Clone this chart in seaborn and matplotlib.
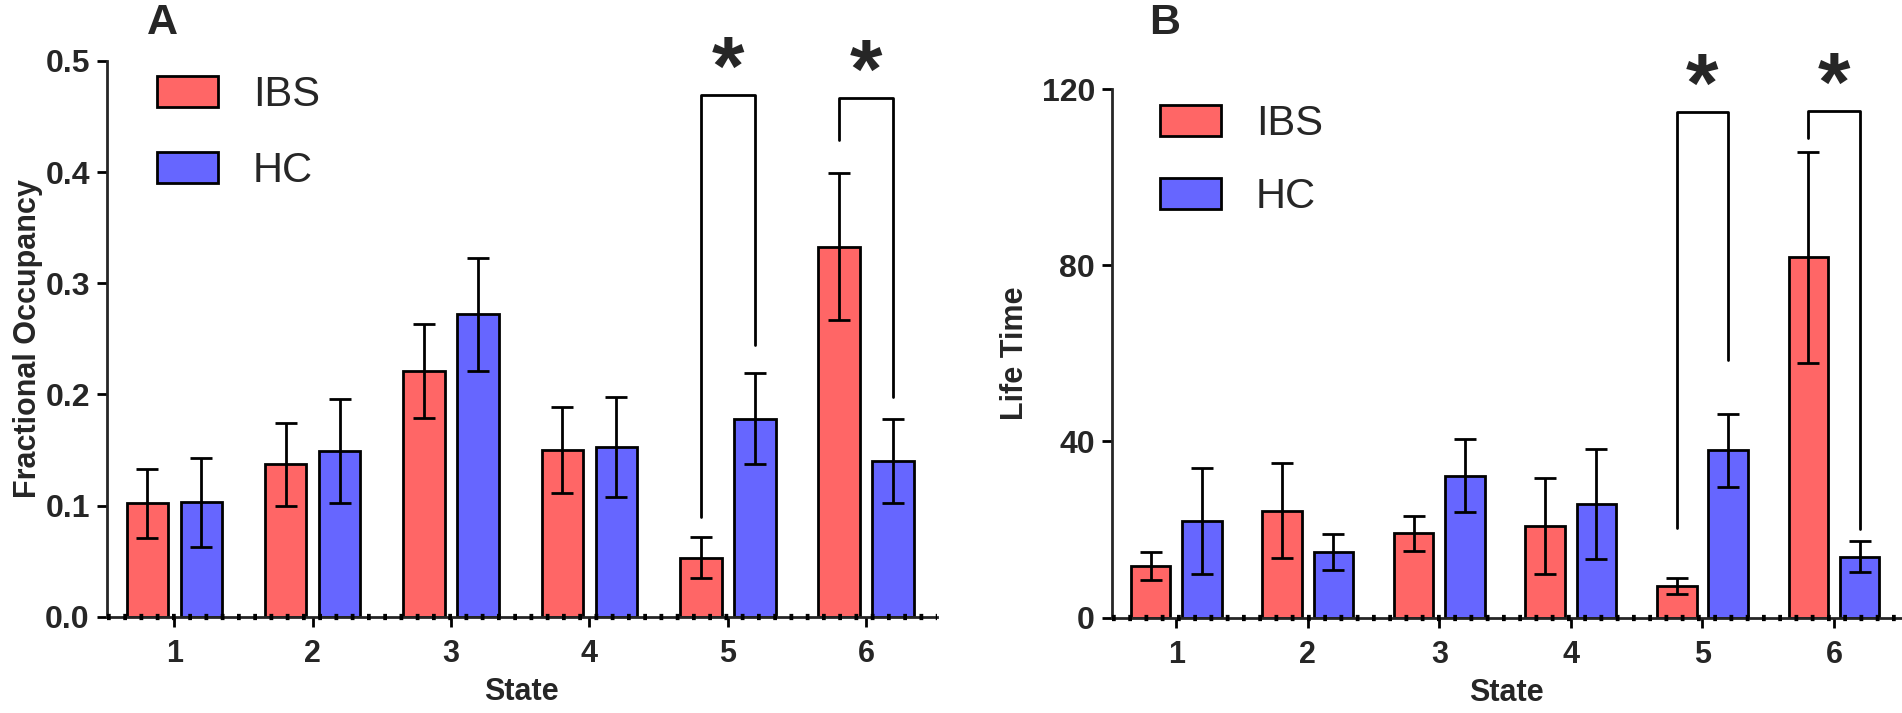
import pandas as pd
import matplotlib
matplotlib.use("Agg")
import matplotlib.pyplot as plt
from matplotlib.patches import Patch
import seaborn as sns

# values (mean and SEM per state)
states = ["1", "2", "3", "4", "5", "6"]
groups = ["IBS", "HC"]

fo_ibs = [0.102, 0.137, 0.221, 0.150, 0.053, 0.333]
fo_ibs_sem = [0.031, 0.037, 0.042, 0.039, 0.0185, 0.066]
fo_hc = [0.103, 0.149, 0.272, 0.153, 0.178, 0.140]
fo_hc_sem = [0.040, 0.047, 0.051, 0.045, 0.041, 0.038]

lt_ibs = [11.7, 24.3, 19.1, 20.8, 7.2, 81.8]
lt_ibs_sem = [3.2, 10.8, 3.9, 10.9, 1.8, 23.9]
lt_hc = [21.9, 14.9, 32.2, 25.9, 38.0, 13.8]
lt_hc_sem = [12.0, 4.1, 8.3, 12.5, 8.3, 3.5]

# significance brackets: (state index, top, left leg end, right leg end)
fo_sig = [(4, 0.469, 0.090, 0.244), (5, 0.467, 0.429, 0.198)]
lt_sig = [(4, 114.8, 20.3, 58.6), (5, 115.1, 108.9, 20.2)]

colors = {"IBS": "#FF6666", "HC": "#6666FF"}

sns.set_style("ticks")
plt.rcParams["font.family"] = ["Liberation Sans", "DejaVu Sans"]
plt.rcParams["font.weight"] = "bold"


def long_df(ibs, hc):
    return pd.DataFrame({
        "State": states * 2,
        "Group": ["IBS"] * len(states) + ["HC"] * len(states),
        "Value": ibs + hc,
    })


def draw_panel(ax, ibs, ibs_sem, hc, hc_sem, sig, ylim, yticks, ylabels, ylabel,
               ylabel_x, xlabel_y, leg_xy, leg_space):
    df = long_df(ibs, hc)
    sns.barplot(data=df, x="State", y="Value", hue="Group", hue_order=groups,
                order=states, palette=colors, errorbar=None, width=0.78, gap=0.23,
                edgecolor="black", linewidth=2, saturation=1, legend=False,
                ax=ax, zorder=2)

    centers = {}
    for g, cont, sem in zip(groups, ax.containers, [ibs_sem, hc_sem]):
        xs = [b.get_x() + b.get_width() / 2 for b in cont]
        ys = [b.get_height() for b in cont]
        centers[g] = xs
        ax.errorbar(xs, ys, yerr=sem, fmt="none", ecolor="black", elinewidth=2,
                    capsize=8, capthick=2, zorder=3)

    for i, top, yl, yr in sig:
        x1, x2 = centers["IBS"][i], centers["HC"][i]
        ax.plot([x1, x1, x2, x2], [yl, top, top, yr], color="black", lw=2,
                clip_on=False, zorder=4)
        ax.annotate("*", xy=((x1 + x2) / 2, top), xytext=(0, 16),
                    textcoords="offset points", ha="center", va="center",
                    fontsize=60, fontweight="bold", annotation_clip=False)

    ax.set_xlim(-0.49, 5.51)
    ax.set_ylim(*ylim)
    ax.set_yticks(yticks)
    ax.set_yticklabels(ylabels)
    ax.axhline(0, color="black", lw=4.5, ls=(0, (0.6, 2.0)), zorder=5,
               clip_on=False)

    sns.despine(ax=ax)
    ax.spines["left"].set_linewidth(2)
    ax.spines["bottom"].set_linewidth(2)
    ax.tick_params(axis="both", width=2, length=7, color="black",
                   labelsize=23, pad=5)
    ax.tick_params(axis="x", labelsize=22, pad=9)
    for lab in ax.get_xticklabels() + ax.get_yticklabels():
        lab.set_fontweight("bold")

    ax.set_xlabel("State", fontsize=22, fontweight="bold", va="center")
    ax.xaxis.set_label_coords(0.5, xlabel_y)
    ax.set_ylabel(ylabel, fontsize=22, fontweight="bold", va="center")
    ax.yaxis.set_label_coords(ylabel_x, 0.5)

    handles = [Patch(facecolor=colors[g], edgecolor="black", linewidth=2, label=g)
               for g in groups]
    ax.legend(handles=handles, loc="upper left", bbox_to_anchor=leg_xy,
              frameon=False, handlelength=1.46, handleheight=0.77,
              handletextpad=0.84, labelspacing=leg_space, borderpad=0,
              borderaxespad=0, prop={"size": 30, "weight": "normal"})


fig = plt.figure(figsize=(19.02, 7.13), dpi=100)
ax_a = fig.add_axes([0.056, 0.1351, 0.4365, 0.7794])
ax_b = fig.add_axes([0.5845, 0.1339, 0.415, 0.7408])

draw_panel(ax_a, fo_ibs, fo_ibs_sem, fo_hc, fo_hc_sem, fo_sig, (0, 0.5),
           [0, 0.1, 0.2, 0.3, 0.4, 0.5], ["0.0", "0.1", "0.2", "0.3", "0.4", "0.5"],
           "Fractional Occupancy", -0.094, -0.136, (0.061, 0.975), 0.87)
draw_panel(ax_b, lt_ibs, lt_ibs_sem, lt_hc, lt_hc_sem, lt_sig, (0, 120),
           [0, 40, 80, 120], ["0", "40", "80", "120"],
           "Life Time", -0.122, -0.142, (0.061, 0.972), 0.8)

fig.text(162 / 1902, 1 - 34 / 713, "A", fontsize=31, fontweight="bold",
         ha="center", va="baseline")
fig.text(1165 / 1902, 1 - 34 / 713, "B", fontsize=31, fontweight="bold",
         ha="center", va="baseline")

fig.savefig("out.png", dpi=100)
